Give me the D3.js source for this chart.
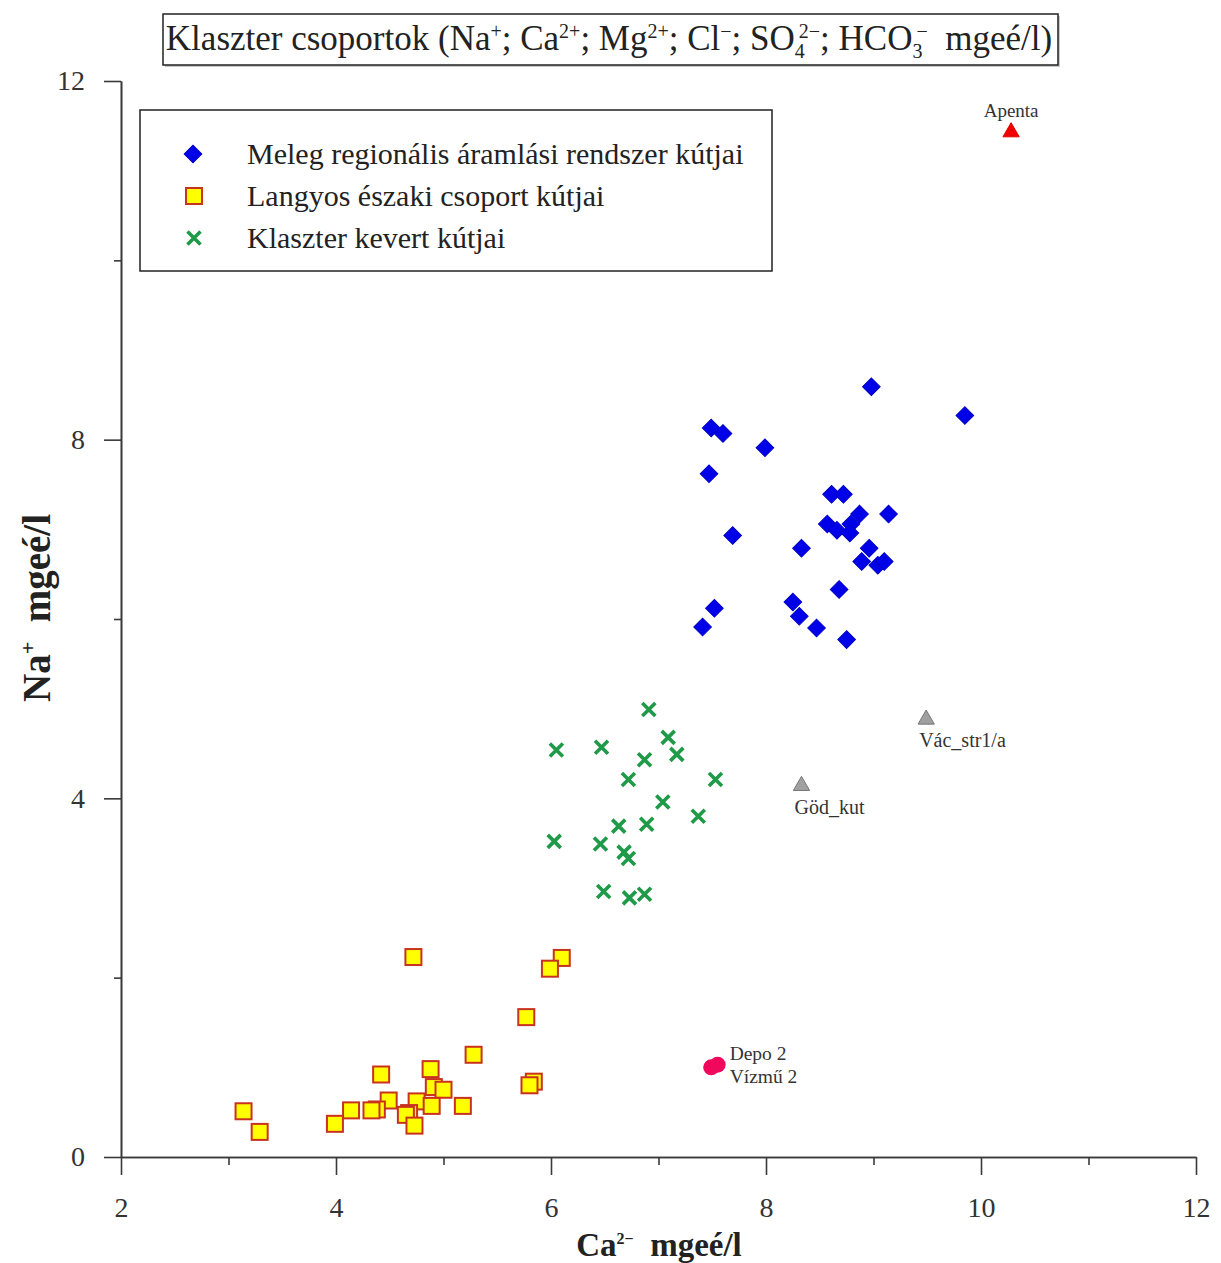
<!DOCTYPE html>
<html>
<head>
<meta charset="utf-8">
<script src="https://cdn.jsdelivr.net/npm/d3@7/dist/d3.min.js"></script>
<style>
  html, body { margin: 0; padding: 0; background: #fff; }
  svg { display: block; }
  text { font-family: "Liberation Serif", "DejaVu Serif", serif; }
</style>
</head>
<body>
<div id="chart"></div>
<script>
// Ca2+ (x) and Na+ (y) concentrations, mgeé/l
const warmRegionalCa = [8.98, 9.85, 7.49, 7.60, 7.99, 7.47, 8.61, 8.72, 9.14, 8.87, 8.57, 8.66, 8.79, 8.78, 7.69, 8.33, 8.96, 8.89, 9.04, 9.10, 8.68, 7.52, 8.25, 8.31, 7.41, 8.47, 8.75];
const warmRegionalNa = [8.59, 8.27, 8.13, 8.07, 7.91, 7.62, 7.39, 7.39, 7.17, 7.17, 7.06, 6.99, 7.06, 6.96, 6.93, 6.79, 6.79, 6.64, 6.60, 6.64, 6.33, 6.12, 6.19, 6.03, 5.91, 5.90, 5.77];

const northernCa = [4.72, 6.10, 5.99, 5.77, 5.28, 4.42, 4.88, 4.91, 5.00, 5.84, 5.80, 4.49, 4.38, 4.33, 4.14, 4.75, 4.89, 5.18, 3.14, 4.68, 4.65, 4.73, 3.99, 3.29];
const northernNa = [2.23, 2.22, 2.10, 1.56, 1.14, 0.92, 0.98, 0.78, 0.75, 0.84, 0.80, 0.63, 0.53, 0.52, 0.52, 0.62, 0.57, 0.57, 0.51, 0.49, 0.47, 0.35, 0.37, 0.28];

const mixedCa = [6.91, 6.05, 6.47, 7.09, 7.17, 6.87, 6.72, 7.53, 7.04, 7.37, 6.63, 6.89, 6.03, 6.46, 6.68, 6.72, 6.49, 6.73, 6.87];
const mixedNa = [4.99, 4.54, 4.57, 4.68, 4.49, 4.43, 4.21, 4.21, 3.96, 3.80, 3.69, 3.71, 3.52, 3.49, 3.40, 3.33, 2.96, 2.89, 2.93];

// individually labelled wells
const greyWellNames = ["Vác_str1/a", "Göd_kut"];
const greyWellCa = [9.49, 8.33];
const greyWellNa = [4.88, 4.14];

const apentaName = "Apenta";
const apentaCa = 10.28;
const apentaNa = 11.43;

const pinkWellNames = ["Depo 2", "Vízmű 2"];
const pinkWellCa = [7.49, 7.55];
const pinkWellNa = [1.00, 1.03];

const legendLabels = [
  "Meleg regionális áramlási rendszer kútjai",
  "Langyos északi csoport kútjai",
  "Klaszter kevert kútjai"
];

const xMajorTicks = [2, 4, 6, 8, 10, 12];
const xMinorTicks = [3, 5, 7, 9, 11];
const yMajorTicks = [0, 4, 8, 12];
const yMinorTicks = [2, 6, 10];

const W = 1221, H = 1263;
const svg = d3.select("#chart").append("svg").attr("width", W).attr("height", H);

const x = d3.scaleLinear().domain([2, 12]).range([121, 1196]);
const y = d3.scaleLinear().domain([0, 12]).range([1157, 81]);

const axisColor = "#3a3a3a";

function styleAxis(g) {
  g.select(".domain").attr("stroke", axisColor).attr("stroke-width", 1.6);
  g.selectAll(".tick line").attr("stroke", axisColor).attr("stroke-width", 1.6);
  g.selectAll(".tick text")
    .attr("fill", "#333")
    .attr("font-size", 28)
    .attr("font-family", "'Liberation Serif', serif");
}

// x axis: major + minor ticks
svg.append("g")
  .attr("transform", `translate(0,${y(0)})`)
  .call(d3.axisBottom(x).tickValues(xMinorTicks).tickSize(8).tickSizeOuter(0).tickFormat(""))
  .call(styleAxis);
svg.append("g")
  .attr("transform", `translate(0,${y(0)})`)
  .call(d3.axisBottom(x).tickValues(xMajorTicks).tickSize(18).tickSizeOuter(0).tickPadding(22).tickFormat(d3.format("d")))
  .call(styleAxis);

// y axis: major + minor ticks
svg.append("g")
  .attr("transform", `translate(${x(2)},0)`)
  .call(d3.axisLeft(y).tickValues(yMinorTicks).tickSize(7).tickSizeOuter(0).tickFormat(""))
  .call(styleAxis);
svg.append("g")
  .attr("transform", `translate(${x(2)},0)`)
  .call(d3.axisLeft(y).tickValues(yMajorTicks).tickSize(17).tickSizeOuter(0).tickPadding(19).tickFormat(d3.format("d")))
  .call(styleAxis);

// axis titles
const xTitle = svg.append("text")
  .attr("x", 659).attr("y", 1256)
  .attr("text-anchor", "middle")
  .attr("font-size", 33).attr("font-weight", "bold").attr("fill", "#222");
xTitle.append("tspan").text("Ca");
xTitle.append("tspan").attr("font-size", 16).attr("dy", -12).text("2−");
xTitle.append("tspan").attr("dy", 12).text("\u00a0\u00a0mgeé/l");

const yTitle = svg.append("text")
  .attr("transform", "translate(50,608) rotate(-90)")
  .attr("text-anchor", "middle")
  .attr("font-size", 39).attr("font-weight", "bold").attr("fill", "#222");
yTitle.append("tspan").text("Na");
yTitle.append("tspan").attr("font-size", 22).attr("dy", -15).text("+");
yTitle.append("tspan").attr("dy", 15).text("\u00a0\u00a0mgeé/l");

// chart title box
svg.append("rect").attr("x", 165).attr("y", 16).attr("width", 895).attr("height", 51).attr("fill", "#c8c8c8");
svg.append("rect").attr("x", 163).attr("y", 14).attr("width", 895).attr("height", 51)
  .attr("fill", "#fff").attr("stroke", "#222").attr("stroke-width", 1.5);

const title = svg.append("text").attr("x", 609).attr("y", 50)
  .attr("text-anchor", "middle").attr("font-size", 35).attr("fill", "#222");
const titleParts = [
  ["Klaszter csoportok (Na", null], ["+", "sup"], ["; Ca", null], ["2+", "sup"],
  ["; Mg", null], ["2+", "sup"], ["; Cl", null], ["−", "sup"], ["; SO", null],
  ["4", "sub"], ["2−", "sup2"], ["; HCO", null], ["3", "sub"], ["−", "sup2"], ["\u00a0\u00a0mgeé/l)", null]
];
let shift = 0;
titleParts.forEach(([t, kind]) => {
  const ts = title.append("tspan").text(t);
  let target = 0;
  if (kind === "sup" || kind === "sup2") target = -12;
  else if (kind === "sub") target = 8;
  if (kind) ts.attr("font-size", 20);
  if (kind === "sup2") ts.attr("dx", -6);   // superscript sits just over the preceding subscript
  ts.attr("dy", target - shift);
  shift = target;
});

// legend box
svg.append("rect").attr("x", 140).attr("y", 110).attr("width", 632).attr("height", 161)
  .attr("fill", "#fff").attr("stroke", "#222").attr("stroke-width", 1.5);

// marker helpers
const diamond = d3.symbol().type(d3.symbolSquare).size(155);
function drawDiamond(g, cx, cy) {
  g.append("path").attr("d", diamond())
    .attr("transform", `translate(${cx},${cy}) rotate(45)`)
    .attr("fill", "#0000e8").attr("stroke", "#0000c8").attr("stroke-width", 1);
}
function drawSquare(g, cx, cy) {
  g.append("rect").attr("x", cx - 8).attr("y", cy - 8).attr("width", 16).attr("height", 16)
    .attr("fill", "#ffff00").attr("stroke", "#c8321e").attr("stroke-width", 2);
}
function drawCross(g, cx, cy) {
  const s = 6.5;
  g.append("path").attr("d", `M${cx - s},${cy - s}L${cx + s},${cy + s}M${cx - s},${cy + s}L${cx + s},${cy - s}`)
    .attr("stroke", "#1f9a48").attr("stroke-width", 3.6).attr("fill", "none");
}
const tri = d3.symbol().type(d3.symbolTriangle).size(115);

const legendY = [154, 196, 238];
const legendG = svg.append("g");
drawDiamond(legendG, 193, legendY[0]);
drawSquare(legendG, 194, legendY[1]);
drawCross(legendG, 194, legendY[2]);
legendLabels.forEach((t, i) => {
  legendG.append("text").attr("x", 247).attr("y", legendY[i] + 10)
    .attr("font-size", 30).attr("fill", "#222").text(t);
});

// data marks
const marks = svg.append("g");
northernCa.forEach((c, i) => drawSquare(marks, x(c), y(northernNa[i])));
mixedCa.forEach((c, i) => drawCross(marks, x(c), y(mixedNa[i])));
warmRegionalCa.forEach((c, i) => drawDiamond(marks, x(c), y(warmRegionalNa[i])));

// grey labelled wells
greyWellCa.forEach((c, i) => {
  marks.append("path").attr("d", tri())
    .attr("transform", `translate(${x(c)},${y(greyWellNa[i])})`)
    .attr("fill", "#a0a0a0").attr("stroke", "#777").attr("stroke-width", 1);
  marks.append("text").attr("x", x(c) - 7).attr("y", y(greyWellNa[i]) + 28)
    .attr("font-size", 20).attr("fill", "#333").text(greyWellNames[i]);
});

// Apenta
marks.append("path").attr("d", tri())
  .attr("transform", `translate(${x(apentaCa)},${y(apentaNa)})`)
  .attr("fill", "#f00000").attr("stroke", "#e00000").attr("stroke-width", 1);
marks.append("text").attr("x", x(apentaCa)).attr("y", y(apentaNa) - 15)
  .attr("text-anchor", "middle").attr("font-size", 19).attr("fill", "#333").text(apentaName);

// Depo 2 / Vízmű 2
pinkWellCa.forEach((c, i) => {
  marks.append("circle").attr("cx", x(c)).attr("cy", y(pinkWellNa[i])).attr("r", 8)
    .attr("fill", "#f0085c");
});
pinkWellNames.forEach((t, i) => {
  marks.append("text").attr("x", x(d3.max(pinkWellCa)) + 12).attr("y", y(pinkWellNa[0]) - 7 + i * 23)
    .attr("font-size", 19.5).attr("fill", "#333").text(t);
});
</script>
</body>
</html>
